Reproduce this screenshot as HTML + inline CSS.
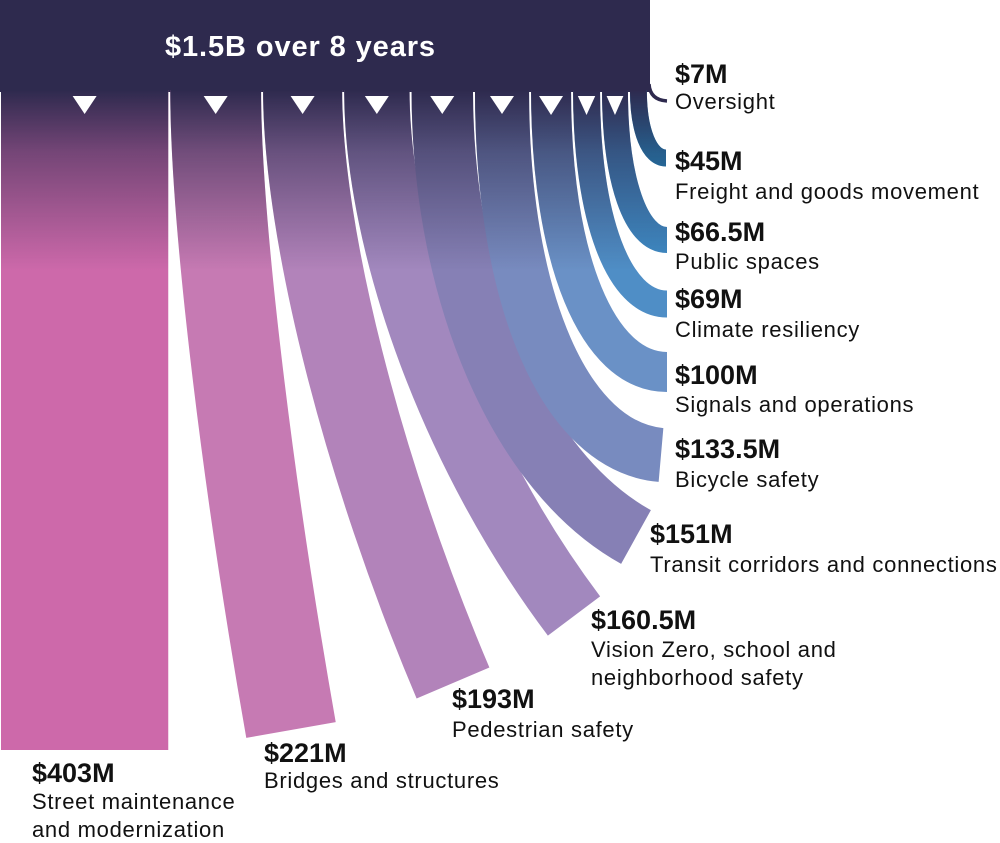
<!DOCTYPE html>
<html><head><meta charset="utf-8"><style>
html,body{margin:0;padding:0;background:#fff;}
svg{display:block;}
.b{font-family:"Liberation Sans",sans-serif;font-weight:bold;font-size:27px;fill:#111;}
.r{font-family:"Liberation Sans",sans-serif;font-size:22px;fill:#111;letter-spacing:0.7px;}
</style></head><body>
<svg id="chart" width="1000" height="843" viewBox="0 0 1000 843" xmlns="http://www.w3.org/2000/svg">
<defs>
<linearGradient id="fade" x1="0" y1="90" x2="0" y2="270" gradientUnits="userSpaceOnUse">
<stop offset="0" stop-color="#2e2a4e" stop-opacity="1"/>
<stop offset="0.35" stop-color="#2e2a4e" stop-opacity="0.55"/>
<stop offset="1" stop-color="#2e2a4e" stop-opacity="0"/>
</linearGradient>
<mask id="bandMask" maskUnits="userSpaceOnUse" x="0" y="0" width="1000" height="843"><g id="maskGroup"></g></mask>
</defs>
<rect x="0" y="0" width="650" height="92" fill="#2e2a4e"/>
<text x="165" y="56" font-family="Liberation Sans, sans-serif" font-weight="bold" font-size="29" letter-spacing="0.9" fill="#fff">$1.5B over 8 years</text>
<path d="M649 84 Q650 100 667 101" fill="none" stroke="#2e2a4e" stroke-width="3.5"/>
<g id="bands"></g>
<rect x="0" y="88" width="700" height="190" fill="url(#fade)" mask="url(#bandMask)"/>
<g id="tris"></g>
<g id="labels">
<text class="b" x="675" y="83">$7M</text><text class="r" x="675" y="109">Oversight</text>
<text class="b" x="675" y="170">$45M</text><text class="r" x="675" y="199">Freight and goods movement</text>
<text class="b" x="675" y="241">$66.5M</text><text class="r" x="675" y="269">Public spaces</text>
<text class="b" x="675" y="308">$69M</text><text class="r" x="675" y="337">Climate resiliency</text>
<text class="b" x="675" y="384">$100M</text><text class="r" x="675" y="412">Signals and operations</text>
<text class="b" x="675" y="458">$133.5M</text><text class="r" x="675" y="487">Bicycle safety</text>
<text class="b" x="650" y="543">$151M</text><text class="r" x="650" y="572">Transit corridors and connections</text>
<text class="b" x="591" y="629">$160.5M</text><text class="r" x="591" y="657">Vision Zero, school and</text><text class="r" x="591" y="685">neighborhood safety</text>
<text class="b" x="452" y="708">$193M</text><text class="r" x="452" y="737">Pedestrian safety</text>
<text class="b" x="264" y="762">$221M</text><text class="r" x="264" y="788">Bridges and structures</text>
<text class="b" x="32" y="782">$403M</text><text class="r" x="32" y="809">Street maintenance</text><text class="r" x="32" y="837">and modernization</text>
</g>
</svg>
<script>
const categories = ["Street maintenance","Bridges","Pedestrian","Vision Zero","Transit","Bicycle","Signals","Climate","Public spaces","Freight"];
const values = [403,221,193,160.5,151,133.5,100,69,66.5,45];
const colors = ["#cd69aa","#c67ab3","#b283ba","#a288be","#8680b5","#788bbf","#6a91c6","#4f8ec6","#3f8dc7","#1f9fd9"];
// layout: end-of-band centre and end angle (degrees from vertical)
const endX = [84,291,453,574,636,661,667,667,667,666];
const endY = [750,730,683,616,537,455,372,304,240,158];
const endAng = [0,10,23,37,61,85,90,90,90,90];
const NS="http://www.w3.org/2000/svg";
const scale = 0.42, top0 = 90;
const bandsG=document.getElementById('bands'), maskG=document.getElementById('maskGroup'), triG=document.getElementById('tris');
let x=0;
for(let i=0;i<values.length;i++){
  const full=values[i]*scale, w=full-2, cx=x+full/2; x+=full;
  const ex=endX[i], ey=endY[i], a=endAng[i]*Math.PI/180;
  let d;
  if(a===0){ d=`M${cx} ${top0} L${cx} ${ey}`; }
  else{
    const t=(ex-cx)/Math.sin(a); const Ix=cx, Iy=ey-t*Math.cos(a);
    const f=0.6;
    const p1y=top0+f*(Iy-top0);
    const p2x=ex+f*(Ix-ex), p2y=ey+f*(Iy-ey);
    d=`M${cx} ${top0} C${cx} ${p1y} ${p2x} ${p2y} ${ex} ${ey}`;
  }
  const p=document.createElementNS(NS,'path');
  
  
  p.setAttribute('d',d);p.setAttribute('fill','none');p.setAttribute('stroke',colors[i]);p.setAttribute('stroke-width',w);
  bandsG.appendChild(p);
  const m=p.cloneNode();m.setAttribute('stroke','#fff');
  
  maskG.appendChild(m);
  if(i<9){
    const tw=Math.min(24,full*0.6), th=i<6?18:19;
    const tr=document.createElementNS(NS,'polygon');
    
    
    tr.setAttribute('points',`${cx-tw/2},96 ${cx+tw/2},96 ${cx},${96+th}`);
    tr.setAttribute('fill','#fff');
    triG.appendChild(tr);
  }
}
document.querySelectorAll('#labels text').forEach((t,k)=>{
  
  
});
</script>
</body></html>
